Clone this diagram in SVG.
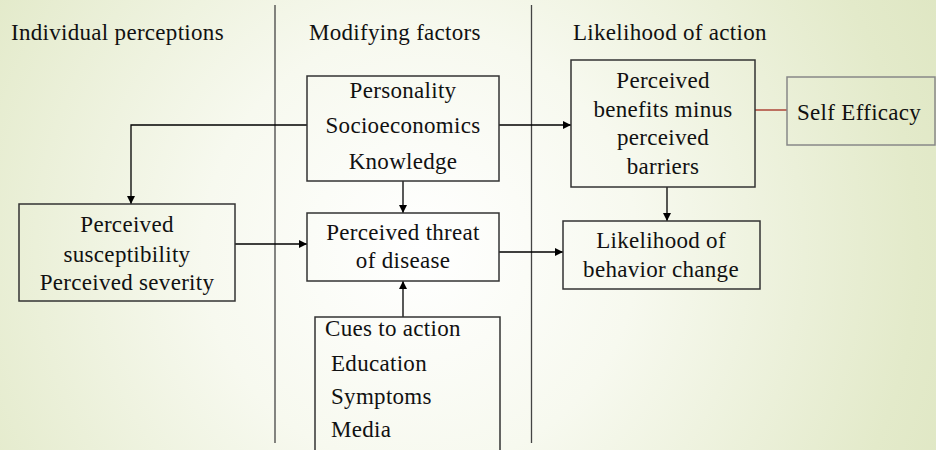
<svg xmlns="http://www.w3.org/2000/svg" width="936" height="450" viewBox="0 0 936 450">
<defs>
<radialGradient id="bg" cx="420" cy="250" r="620" gradientUnits="userSpaceOnUse">
<stop offset="0" stop-color="#ffffff"/>
<stop offset="0.35" stop-color="#f7f9ef"/>
<stop offset="0.8" stop-color="#e3eaca"/>
<stop offset="1" stop-color="#dde5c0"/>
</radialGradient>
<marker id="ah" viewBox="0 0 10 10" refX="10" refY="5" markerWidth="8" markerHeight="8" markerUnits="userSpaceOnUse" orient="auto">
<path d="M0,0 L10,5 L0,10 z" fill="#000"/>
</marker>
<style>
text{font-size:23px;fill:#111;letter-spacing:0.3px}
.c{text-anchor:middle}
.box{fill:none;stroke:#333;stroke-width:1.5}
.gbox{fill:none;stroke:#888;stroke-width:1.5}
.ln{fill:none;stroke:#000;stroke-width:1.3}
.div{stroke:#444;stroke-width:1.3}
</style>
</defs>
<rect width="936" height="450" fill="url(#bg)"/>
<g id="dividers">
<line class="div" x1="275" y1="5" x2="275" y2="443"/>
<line class="div" x1="531.5" y1="5" x2="531.5" y2="443"/>
</g>
<g font-family="'Liberation Serif', 'Times New Roman', Tinos, 'DejaVu Serif', serif">
<g id="headers">
<text x="11" y="40">Individual perceptions</text>
<text x="309" y="40">Modifying factors</text>
<text x="573" y="40">Likelihood of action</text>
</g>
<g id="connectors">
<path class="ln" d="M307,125 H131 V204" marker-end="url(#ah)"/>
<path class="ln" d="M499,125 H571" marker-end="url(#ah)"/>
<path class="ln" d="M403,181 V213" marker-end="url(#ah)"/>
<path class="ln" d="M235,244 H307" marker-end="url(#ah)"/>
<path class="ln" d="M403,317 V281" marker-end="url(#ah)"/>
<path class="ln" d="M499,252 H563" marker-end="url(#ah)"/>
<path class="ln" d="M667,187 V221" marker-end="url(#ah)"/>
<line x1="755" y1="110" x2="787" y2="110" stroke="#a52a1e" stroke-width="1.3"/>
</g>
<g id="modifying">
<rect class="box" x="307" y="76" width="192" height="105"/>
<text class="c" x="403" y="98">Personality</text>
<text class="c" x="403" y="133">Socioeconomics</text>
<text class="c" x="403" y="169">Knowledge</text>
</g>
<g id="threat">
<rect class="box" x="307" y="213" width="192" height="68"/>
<text class="c" x="403" y="240">Perceived threat</text>
<text class="c" x="403" y="268">of disease</text>
</g>
<g id="cues">
<rect class="box" x="315" y="317" width="185" height="140"/>
<text x="325" y="336">Cues to action</text>
<text x="331" y="371">Education</text>
<text x="331" y="404">Symptoms</text>
<text x="331" y="437">Media</text>
</g>
<g id="perceptions">
<rect class="box" x="19" y="204" width="216" height="97"/>
<text class="c" x="127" y="232">Perceived</text>
<text class="c" x="127" y="262">susceptibility</text>
<text class="c" x="127" y="290">Perceived severity</text>
</g>
<g id="benefits">
<rect class="box" x="571" y="60" width="184" height="127"/>
<text class="c" x="663" y="88">Perceived</text>
<text class="c" x="663" y="117">benefits minus</text>
<text class="c" x="663" y="145">perceived</text>
<text class="c" x="663" y="174">barriers</text>
</g>
<g id="likelihood">
<rect class="box" x="563" y="221" width="197" height="68"/>
<text class="c" x="661" y="248">Likelihood of</text>
<text class="c" x="661" y="277">behavior change</text>
</g>
<g id="selfefficacy">
<rect class="gbox" x="787" y="77" width="148" height="68"/>
<text x="797" y="120">Self Efficacy</text>
</g>
</g>
</svg>
